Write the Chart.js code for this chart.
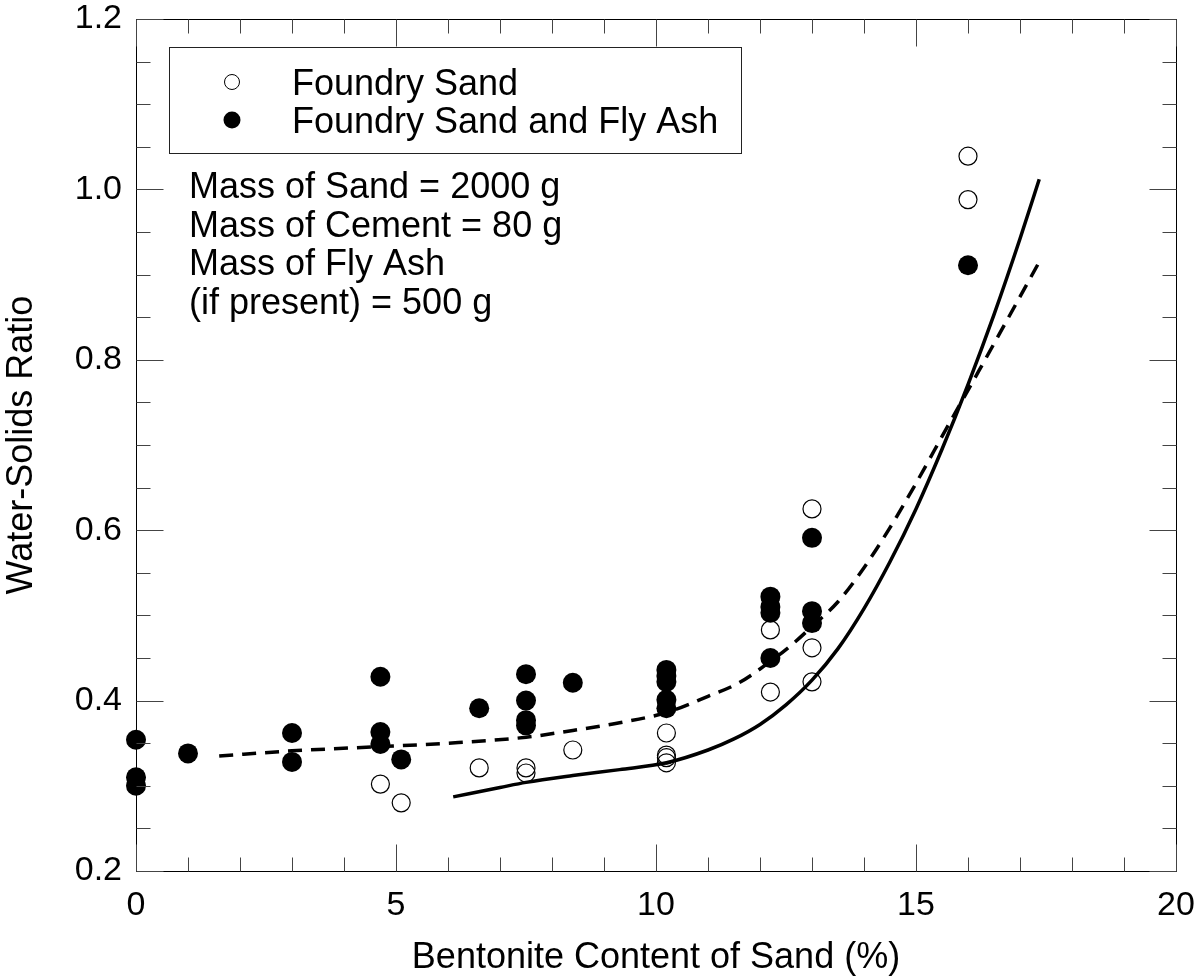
<!DOCTYPE html>
<html>

<head>
    <title>Water-Solids Ratio vs Bentonite Content</title>
    <script src="https://cdn.jsdelivr.net/npm/chart.js"></script>
    <style>
        body { margin: 0; background: #fff; }
    </style>
</head>

<body>
    <canvas id="wsChart" width="1201" height="980"></canvas>

    <script>
        // Foundry sand only (open circles)
        const sandX = [4.7, 5.1, 6.6, 7.5, 7.5, 8.4, 10.2, 10.2, 10.2, 10.2, 12.2, 12.2, 13.0, 13.0, 13.0, 16.0, 16.0];
        const sandY = [0.302, 0.280, 0.321, 0.321, 0.315, 0.342, 0.362, 0.336, 0.333, 0.327, 0.483, 0.410, 0.625, 0.462, 0.422, 1.039, 0.988];

        // Foundry sand and fly ash (filled circles)
        const ashX = [0, 0, 0, 1.0, 3.0, 3.0, 4.7, 4.7, 4.7, 5.1, 6.6, 7.5, 7.5, 7.5, 7.5, 8.4,
            10.2, 10.2, 10.2, 10.2, 10.2, 12.2, 12.2, 12.2, 12.2, 13.0, 13.0, 13.0, 16.0];
        const ashY = [0.354, 0.310, 0.300, 0.338, 0.362, 0.328, 0.428, 0.363, 0.349, 0.331, 0.391, 0.431, 0.400, 0.377, 0.371, 0.421,
            0.436, 0.429, 0.422, 0.401, 0.391, 0.522, 0.510, 0.503, 0.450, 0.591, 0.505, 0.491, 0.911];

        // fitted curve, foundry sand (solid)
        const sandFitX = [6.1, 7.0, 7.5, 8.4, 9.3, 10.2, 11.0, 11.5, 12.0, 12.5, 13.0, 13.5, 14.0, 14.5, 15.0, 15.5, 16.0, 16.5, 17.0, 17.37];
        const sandFitY = [0.287, 0.298, 0.304, 0.312, 0.319, 0.327, 0.342, 0.355, 0.372, 0.395, 0.424, 0.461, 0.508, 0.563, 0.625, 0.695, 0.771, 0.853, 0.942, 1.012];

        // fitted curve, sand + fly ash (dashed)
        const ashFitX = [1.6, 3.0, 4.7, 6.0, 7.5, 8.4, 9.3, 10.2, 11.0, 11.6, 12.2, 12.6, 13.0, 13.5, 14.0, 14.5, 15.0, 15.6, 16.2, 16.8, 17.38];
        const ashFitY = [0.335, 0.341, 0.346, 0.350, 0.357, 0.365, 0.374, 0.386, 0.405, 0.421, 0.446, 0.465, 0.487, 0.516, 0.556, 0.603, 0.655, 0.721, 0.786, 0.852, 0.916];

        const legendLabels = ['Foundry Sand', 'Foundry Sand and Fly Ash'];
        const noteLines = ['Mass of Sand = 2000 g', 'Mass of Cement = 80 g', 'Mass of Fly Ash', '(if present) = 500 g'];

        const FONT = "'Liberation Sans', Arial, sans-serif";

        const toPoints = (xs, ys) => xs.map((x, i) => ({ x: x, y: ys[i] }));

        // frame with inward ticks on all four sides, legend box and the note
        const framePlugin = {
            id: 'frame',
            afterDraw(chart) {
                const ctx = chart.ctx;
                const a = chart.chartArea;
                const xs = chart.scales.x, ys = chart.scales.y;
                const L = Math.round(a.left) + 0.5, R = Math.round(a.right) + 0.5;
                const T = Math.round(a.top) + 0.5, B = Math.round(a.bottom) + 0.5;
                ctx.save();
                ctx.strokeStyle = '#000';
                ctx.lineWidth = 1;
                ctx.strokeRect(L, T, R - L, B - T);

                ctx.strokeStyle = '#444';
                ctx.beginPath();
                for (let v = 0; v <= 20; v += 1) {
                    const px = Math.round(xs.getPixelForValue(v)) + 0.5;
                    const len = v % 5 === 0 ? 27 : 14;
                    ctx.moveTo(px, B); ctx.lineTo(px, B - len);
                    ctx.moveTo(px, T); ctx.lineTo(px, T + len);
                }
                for (let k = 0; k <= 20; k++) {
                    const v = 0.2 + k * 0.05;
                    const py = Math.round(ys.getPixelForValue(v)) + 0.5;
                    const len = k % 4 === 0 ? 27 : 14;
                    ctx.moveTo(L, py); ctx.lineTo(L + len, py);
                    ctx.moveTo(R, py); ctx.lineTo(R - len, py);
                }
                ctx.stroke();

                // legend
                ctx.strokeStyle = '#222';
                ctx.strokeRect(169.5, 47.5, 572, 106);
                ctx.beginPath();
                ctx.arc(232, 82, 7.5, 0, Math.PI * 2);
                ctx.lineWidth = 1;
                ctx.strokeStyle = '#000';
                ctx.stroke();
                ctx.beginPath();
                ctx.arc(232, 120, 8.5, 0, Math.PI * 2);
                ctx.fillStyle = '#000';
                ctx.fill();

                ctx.font = '36px ' + FONT;
                ctx.textAlign = 'left';
                ctx.textBaseline = 'alphabetic';
                ctx.fillText(legendLabels[0], 292, 95);
                ctx.fillText(legendLabels[1], 292, 133);

                const baselines = [198, 237, 275, 314];
                noteLines.forEach((t, i) => ctx.fillText(t, 189, baselines[i]));
                ctx.restore();
            }
        };

        const ctx = document.getElementById('wsChart').getContext('2d');
        const wsChart = new Chart(ctx, {
            type: 'scatter',
            data: {
                datasets: [
                    {
                        label: legendLabels[0],
                        data: toPoints(sandX, sandY),
                        pointRadius: 9,
                        pointBackgroundColor: 'rgba(0,0,0,0)',
                        pointBorderColor: '#000',
                        pointBorderWidth: 1.2,
                        clip: false
                    },
                    {
                        label: legendLabels[1],
                        data: toPoints(ashX, ashY),
                        pointRadius: 10,
                        pointBackgroundColor: '#000',
                        pointBorderColor: '#000',
                        pointBorderWidth: 0,
                        clip: false
                    },
                    {
                        label: 'Foundry Sand fit',
                        data: toPoints(sandFitX, sandFitY),
                        showLine: true,
                        pointRadius: 0,
                        borderColor: '#000',
                        borderWidth: 3.5,
                        cubicInterpolationMode: 'monotone',
                        fill: false
                    },
                    {
                        label: 'Fly Ash fit',
                        data: toPoints(ashFitX, ashFitY),
                        showLine: true,
                        pointRadius: 0,
                        borderColor: '#000',
                        borderWidth: 3.5,
                        borderDash: [14, 9],
                        cubicInterpolationMode: 'monotone',
                        fill: false
                    }
                ]
            },
            options: {
                responsive: false,
                animation: false,
                layout: { autoPadding: false, padding: { top: 19, right: 25, left: 0, bottom: 0 } },
                plugins: {
                    legend: { display: false },
                    tooltip: { enabled: false }
                },
                scales: {
                    x: {
                        type: 'linear',
                        min: 0,
                        max: 20,
                        grid: { display: false, drawTicks: false },
                        border: { display: false },
                        afterFit(scale) {
                            scale.height = 109;
                            scale.paddingLeft = 0;
                            scale.paddingRight = 0;
                        },
                        ticks: {
                            stepSize: 5,
                            padding: 18,
                            color: '#000',
                            font: { family: FONT, size: 34, lineHeight: 1 }
                        },
                        title: {
                            display: true,
                            text: 'Bentonite Content of Sand (%)',
                            color: '#000',
                            padding: 0,
                            font: { family: FONT, size: 36 }
                        }
                    },
                    y: {
                        type: 'linear',
                        min: 0.2,
                        max: 1.2,
                        grid: { display: false, drawTicks: false },
                        border: { display: false },
                        afterFit(scale) {
                            scale.width = 136;
                            scale.paddingTop = 0;
                            scale.paddingBottom = 0;
                        },
                        ticks: {
                            stepSize: 0.2,
                            padding: 14,
                            color: '#000',
                            font: { family: FONT, size: 34, lineHeight: 1 },
                            callback: (v) => v.toFixed(1)
                        },
                        title: {
                            display: true,
                            text: 'Water-Solids Ratio',
                            color: '#000',
                            padding: 0,
                            font: { family: FONT, size: 36 }
                        }
                    }
                }
            },
            plugins: [framePlugin]
        });
    </script>
</body>

</html>
